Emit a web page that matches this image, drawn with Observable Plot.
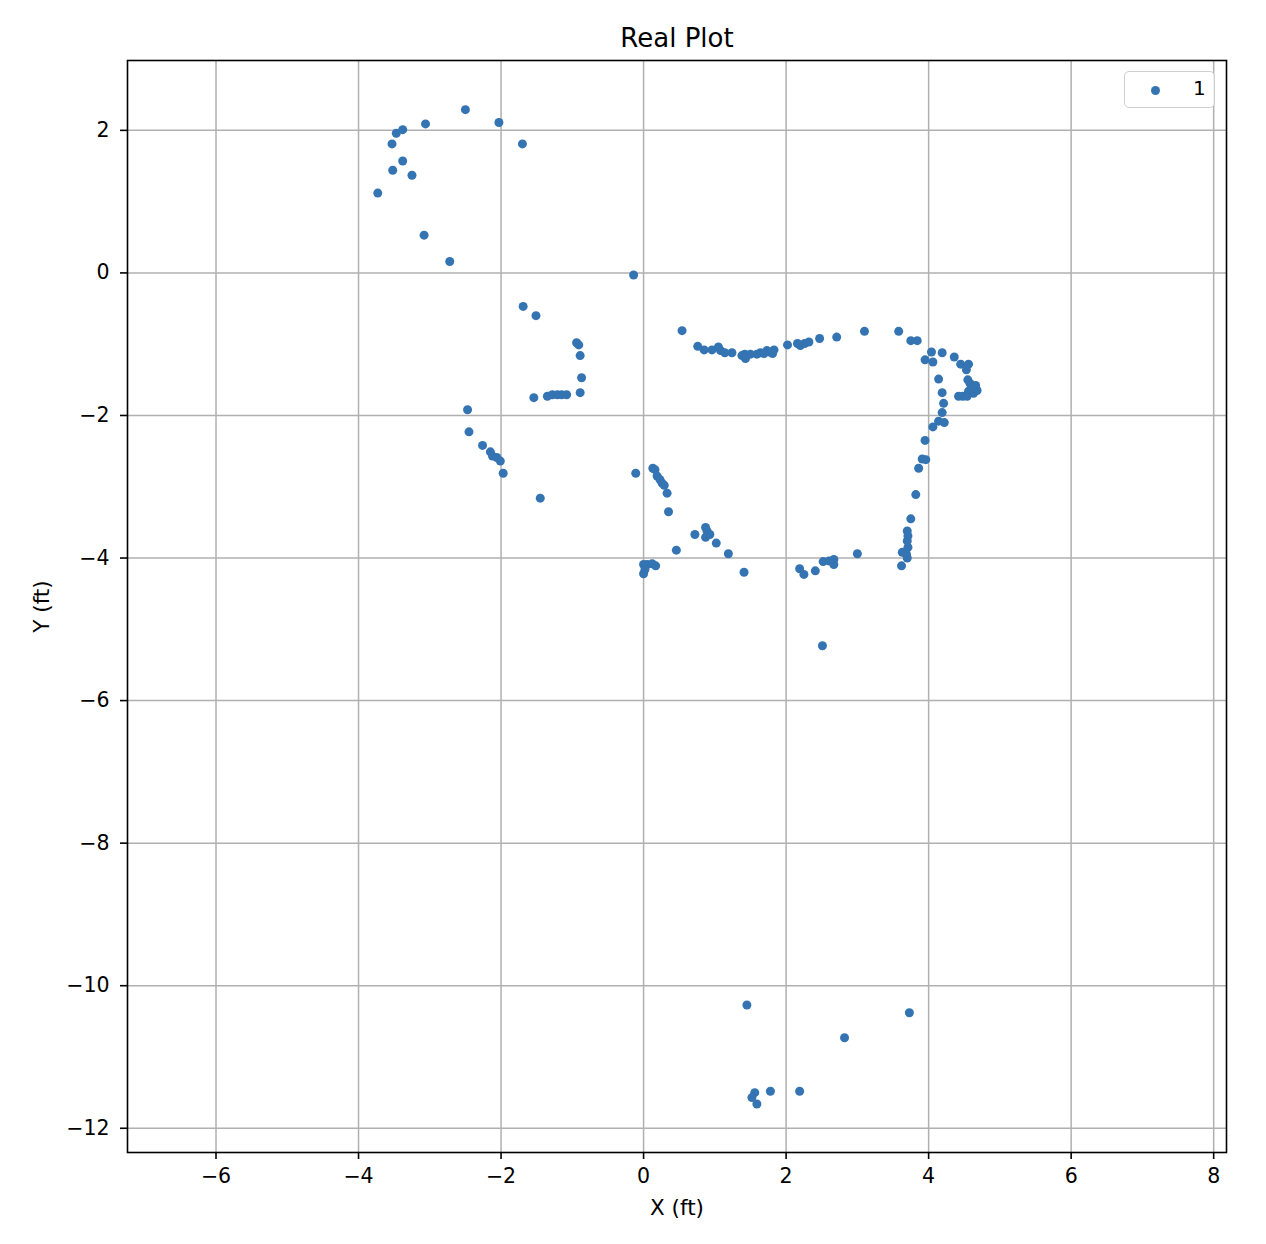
<!DOCTYPE html>
<html>
<head>
<meta charset="utf-8">
<script src="https://cdn.jsdelivr.net/npm/d3@7"></script>
<script src="https://cdn.jsdelivr.net/npm/@observablehq/plot@0.6"></script>
<style>
  body { margin: 0; background: white; }
  #wrap { position: relative; width: 1266px; height: 1244px; font-family: "DejaVu Sans", sans-serif; }
  #legend { position: absolute; left: 1124px; top: 71px; width: 91px; height: 37px;
    border: 1.5px solid #d0d0d0; border-radius: 5px; background: rgba(255,255,255,0.8); box-sizing: border-box; }
  #legend .dot { position: absolute; left: 26px; top: 14px; width: 9px; height: 9px; border-radius: 50%; background: #3574b2; }
  #legend .lab { position: absolute; left: 68px; top: 4px; font-size: 20px; color: #000; }
</style>
</head>
<body>
<div id="wrap"><div id="legend"><div class="dot"></div><div class="lab">1</div></div></div>
<script>
const xs = [
  -2.50, -2.03, -3.06, -3.38, -3.47, -3.53, -1.70, -3.38, -3.52, -3.25, -3.73, -3.08, -2.72, -0.14,
  -1.69, -1.51, -0.94, -0.91, -0.89, -0.87, -0.89, -1.54, -1.35, -1.28, -1.21, -1.15, -1.08, -2.47, -2.45, -2.26, -2.15, -2.12, -2.06, -2.01, -1.97, -1.45, -0.11,
  0.54, 0.76, 0.85, 0.96, 1.05, 1.08, 1.14, 1.24, 1.38, 1.43, 1.42, 1.50, 1.59, 1.69, 1.73, 1.81, 1.83, 1.64, 1.77, 2.02, 2.16, 2.20, 2.26, 2.32, 2.47, 2.71, 3.10,
  3.58, 3.75, 3.84, 4.04, 4.19, 3.95, 4.06, 4.36, 4.45, 4.56, 4.53, 4.14, 4.55, 4.66, 4.58, 4.60, 4.56, 4.42, 4.48, 4.54, 4.63, 4.68, 4.19, 4.21, 4.19, 4.14, 4.22, 4.06, 3.95, 3.91, 3.96, 3.86, 3.82, 3.75, 3.70, 3.71, 3.70, 3.71, 3.63, 3.69, 3.70, 3.62,
  0.13, 0.16, 0.19, 0.23, 0.26, 0.29, 0.33, 0.35, 0.72, 0.87, 0.89, 0.87, 0.93, 1.02, 0.46, 1.19, 1.41, 0.00, 0.05, 0.12, 0.17, 0.00, 0.02, 2.19, 2.25, 2.41, 2.52, 2.60, 2.67, 2.67, 3.00, 2.51,
  1.45, 3.73, 2.82, 1.56, 1.52, 1.59, 1.78, 2.19
];
const ys = [
  2.29, 2.11, 2.09, 2.01, 1.96, 1.81, 1.81, 1.57, 1.44, 1.37, 1.12, 0.53, 0.16, -0.03,
  -0.47, -0.60, -0.98, -1.01, -1.16, -1.47, -1.68, -1.75, -1.73, -1.71, -1.71, -1.71, -1.71, -1.92, -2.23, -2.42, -2.51, -2.57, -2.59, -2.64, -2.81, -3.16, -2.81,
  -0.81, -1.03, -1.08, -1.08, -1.04, -1.09, -1.12, -1.12, -1.16, -1.20, -1.14, -1.14, -1.14, -1.13, -1.09, -1.13, -1.08, -1.12, -1.11, -1.01, -0.99, -1.02, -0.99, -0.97, -0.92, -0.90, -0.82,
  -0.82, -0.95, -0.95, -1.11, -1.12, -1.22, -1.25, -1.18, -1.28, -1.28, -1.36, -1.49, -1.50, -1.58, -1.55, -1.62, -1.66, -1.73, -1.73, -1.73, -1.69, -1.65, -1.68, -1.83, -1.96, -2.08, -2.10, -2.16, -2.35, -2.61, -2.62, -2.74, -3.11, -3.45, -3.62, -3.69, -3.76, -3.85, -3.92, -3.95, -4.00, -4.11,
  -2.74, -2.76, -2.85, -2.90, -2.95, -2.98, -3.09, -3.35, -3.67, -3.57, -3.62, -3.71, -3.67, -3.79, -3.89, -3.94, -4.20, -4.09, -4.09, -4.08, -4.11, -4.22, -4.16, -4.15, -4.23, -4.18, -4.05, -4.04, -4.02, -4.09, -3.94, -5.23,
  -10.27, -10.38, -10.73, -11.50, -11.57, -11.66, -11.48, -11.48
];
const xTicks = [-6, -4, -2, 0, 2, 4, 6, 8];
const yTicks = [2, 0, -2, -4, -6, -8, -10, -12];
const title = "Real Plot";
const xLabel = "X (ft)";
const yLabel = "Y (ft)";

const pts = xs.map((x, i) => ({x, y: ys[i]}));
const fmt = d => d < 0 ? "\u2212" + (-d) : String(d);

const chart = Plot.plot({
  width: 1266,
  height: 1244,
  marginTop: 60,
  marginLeft: 127,
  marginRight: 40,
  marginBottom: 92,
  style: {fontFamily: "DejaVu Sans, sans-serif", fontSize: "20px", color: "#000", background: "white"},
  x: {domain: [-7.242, 8.18], label: null},
  y: {domain: [-12.34, 2.98], label: null},
  marks: [
    Plot.gridX(xTicks, {stroke: "#b0b0b0", strokeOpacity: 1, strokeWidth: 1.5}),
    Plot.gridY(yTicks, {stroke: "#b0b0b0", strokeOpacity: 1, strokeWidth: 1.5}),
    Plot.dot(pts, {x: "x", y: "y", r: 4.5, fill: "#3574b2", stroke: "none"}),
    Plot.frame({stroke: "#000", strokeWidth: 1.6}),
    Plot.axisX(xTicks, {tickSize: 7, tickPadding: 9, fontSize: 20.5, tickFormat: fmt, label: null, strokeWidth: 1.6}),
    Plot.axisY(yTicks, {tickSize: 7, tickPadding: 11, fontSize: 20.5, tickFormat: fmt, label: null, strokeWidth: 1.6}),
    Plot.text([title], {text: d => d, frameAnchor: "top", lineAnchor: "middle", dy: -22, fontSize: 26}),
    Plot.text([xLabel], {text: d => d, frameAnchor: "bottom", lineAnchor: "middle", dy: 56, fontSize: 21.5}),
    Plot.text([yLabel], {text: d => d, frameAnchor: "left", textAnchor: "middle", lineAnchor: "middle", dx: -85, rotate: -90, fontSize: 21.5})
  ]
});
document.getElementById("wrap").prepend(chart);
</script>
</body>
</html>
